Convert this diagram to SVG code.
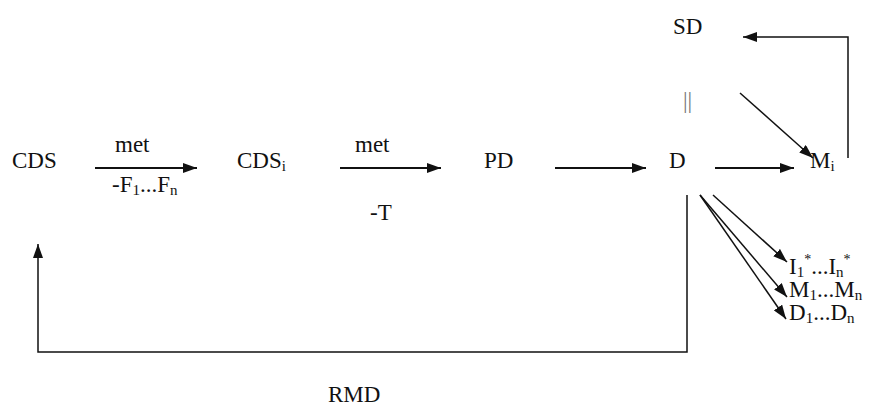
<svg xmlns="http://www.w3.org/2000/svg" width="878" height="407" viewBox="0 0 878 407">
  <style>
    text { font-family: 'Liberation Serif', 'DejaVu Serif', 'Times New Roman', serif; font-size: 23px; fill: #111; }
    .sub { font-size: 15px; }
    .sup { font-size: 14px; }
    .line { stroke: #111; fill: none; }
    .thick { stroke-width: 2; }
    .thin { stroke-width: 1.5; }
    .bar { fill: #777; }
  </style>
  <defs>
    <marker id="arrow" viewBox="0 0 14 10" refX="14" refY="5" markerWidth="14" markerHeight="10" markerUnits="userSpaceOnUse" orient="auto">
      <path d="M0,0 L14,5 L0,10 Z" fill="#111"/>
    </marker>
  </defs>

  <rect width="878" height="407" fill="#fff"/>

  <g id="node-cds"><text x="12" y="168">CDS</text></g>
  <g id="node-cdsi"><text x="237" y="168">CDS<tspan class="sub" dy="3">i</tspan></text></g>
  <g id="node-pd"><text x="484" y="168">PD</text></g>
  <g id="node-d"><text x="669" y="168">D</text></g>
  <g id="node-mi"><text x="810" y="168">M<tspan class="sub" dy="3">i</tspan></text></g>
  <g id="node-sd"><text x="673" y="34">SD</text></g>
  <g id="node-outputs">
    <text x="789" y="274">I<tspan class="sub" dy="3">1</tspan><tspan class="sup" dy="-13">*</tspan><tspan dy="10">...I</tspan><tspan class="sub" dy="3">n</tspan><tspan class="sup" dy="-13">*</tspan></text>
    <text x="789" y="297">M<tspan class="sub" dy="3">1</tspan><tspan dy="-3">...M</tspan><tspan class="sub" dy="3">n</tspan></text>
    <text x="789" y="320">D<tspan class="sub" dy="3">1</tspan><tspan dy="-3">...D</tspan><tspan class="sub" dy="3">n</tspan></text>
  </g>

  <g id="labels">
    <text x="115" y="152">met</text>
    <text x="355" y="152">met</text>
    <text x="112" y="192">-F<tspan class="sub" dy="3">1</tspan><tspan dy="-3">...F</tspan><tspan class="sub" dy="3">n</tspan></text>
    <text x="370" y="220">-T</text>
    <text class="bar" x="683" y="108">||</text>
    <text x="328" y="402">RMD</text>
  </g>

  <g id="connectors">
    <line class="line thick" x1="95" y1="168" x2="197" y2="168" marker-end="url(#arrow)"/>
    <line class="line thick" x1="340" y1="168" x2="441" y2="168" marker-end="url(#arrow)"/>
    <line class="line thick" x1="555" y1="168" x2="646" y2="168" marker-end="url(#arrow)"/>
    <line class="line thick" x1="715" y1="168" x2="794" y2="168" marker-end="url(#arrow)"/>
    <polyline class="line thin" points="848,158 848,37 743,37" marker-end="url(#arrow)"/>
    <line class="line thin" x1="740" y1="93" x2="813" y2="158" marker-end="url(#arrow)"/>
    <polyline class="line thin" points="687,195 687,352 38,352 38,244" marker-end="url(#arrow)"/>
    <line class="line thin" x1="713" y1="195" x2="787" y2="262" marker-end="url(#arrow)"/>
    <line class="line thin" x1="700" y1="195" x2="787" y2="297" marker-end="url(#arrow)"/>
    <line class="line thin" x1="700" y1="195" x2="786" y2="319" marker-end="url(#arrow)"/>
  </g>
</svg>
